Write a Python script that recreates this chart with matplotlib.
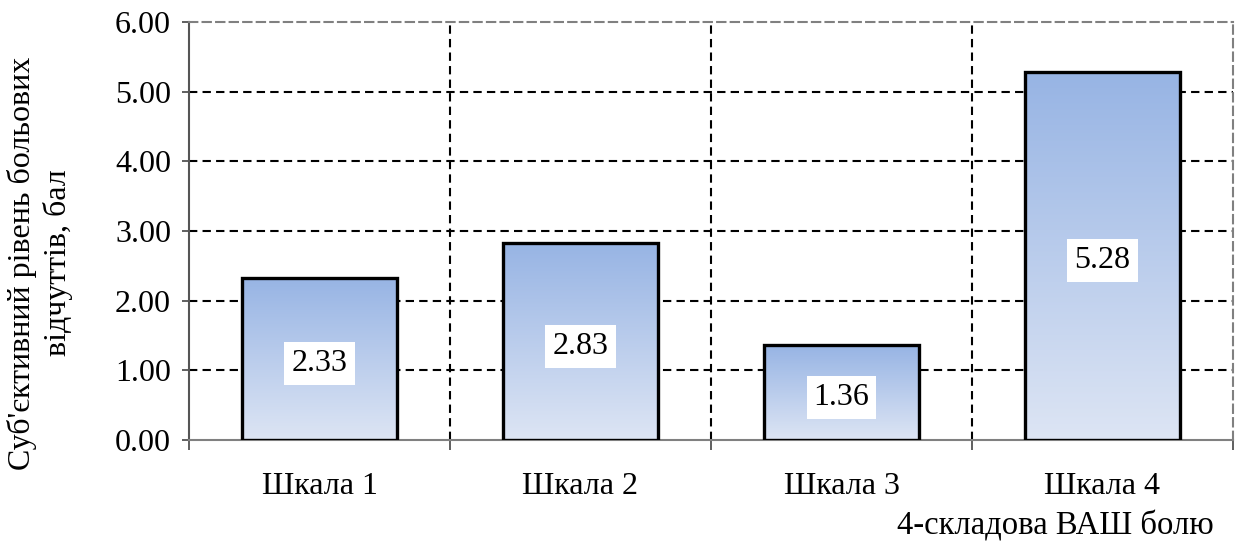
import numpy as np
import matplotlib
matplotlib.use("Agg")
import matplotlib.pyplot as plt
from matplotlib.colors import LinearSegmentedColormap

categories = ["Шкала 1", "Шкала 2", "Шкала 3", "Шкала 4"]
values = [2.33, 2.83, 1.36, 5.28]
yticks = [0, 1, 2, 3, 4, 5, 6]
ylabel = "Суб'єктивний рівень больових\nвідчуттів, бал"
xlabel = "4-складова ВАШ болю"

plt.rcParams['font.family'] = ['Liberation Serif', 'DejaVu Serif']
FS = 23

fig = plt.figure(figsize=(12.39, 5.43), dpi=100)
ax = fig.add_axes([189/1239, 1-440/543, (1233-189)/1239, (440-22)/543])

x = np.arange(len(categories))
bars = ax.bar(x, values, width=0.595, facecolor='none', edgecolor='black', linewidth=2.4, zorder=3)

cmap = LinearSegmentedColormap.from_list('g', ['#dde5f4', '#97b4e4'])
grad = np.linspace(0, 1, 256).reshape(-1, 1)
for b in bars:
    x0, w, h = b.get_x(), b.get_width(), b.get_height()
    im = ax.imshow(grad, extent=[x0, x0 + w, 0, h], origin='lower', aspect='auto',
                   cmap=cmap, zorder=2.5, interpolation='bicubic')
    im.set_clip_path(b)

for b, v in zip(bars, values):
    ax.annotate(f"{v:.2f}", xy=(b.get_x() + b.get_width()/2, v/2), xytext=(0, -3.5),
                textcoords='offset points', ha='center', va='center',
                fontsize=FS, zorder=4,
                bbox=dict(facecolor='white', edgecolor='none', pad=5))

ax.set_xlim(-0.5, len(categories) - 0.5)
ax.set_ylim(0, 6)
ax.set_yticks(yticks)
ax.set_yticklabels([f"{t:.2f}" for t in yticks], fontsize=FS)
ax.set_xticks(x)
ax.set_xticklabels(categories, fontsize=FS)
ax.tick_params(axis='x', length=0, pad=23)
ax.tick_params(axis='y', length=5, width=1.2, direction='out', pad=8, colors='#444444', labelcolor='black')

# category boundary ticks
ax.set_xticks(np.arange(-0.5, len(categories), 1), minor=True)
ax.tick_params(axis='x', which='minor', length=7, width=1.2, direction='out', color='#444444')

# grid lines
for t in yticks[1:-1]:
    ax.axhline(t, color='black', linestyle=(0, (4, 2.5)), linewidth=1.5, zorder=1)
for b in np.arange(0.5, len(categories) - 1, 1):
    ax.axvline(b, color='black', linestyle=(0, (4, 2.5)), linewidth=1.5, zorder=1)

for s in ['top', 'right']:
    ax.spines[s].set_color('#808080')
    ax.spines[s].set_linestyle((0, (4, 2.5)))
    ax.spines[s].set_linewidth(1.5)
ax.spines['left'].set_color('#555555')
ax.spines['left'].set_linewidth(1.5)
ax.spines['bottom'].set_color('#808080')
ax.spines['bottom'].set_linewidth(1.5)

fig.text(40/1239, 1-263/543, ylabel, rotation=90, ha='center', va='center', fontsize=FS,
         multialignment='center', linespacing=1.25)
fig.text(1055/1239, 1-526/543, xlabel, ha='center', va='center', fontsize=23.5)

fig.savefig("out.png", dpi=100)
